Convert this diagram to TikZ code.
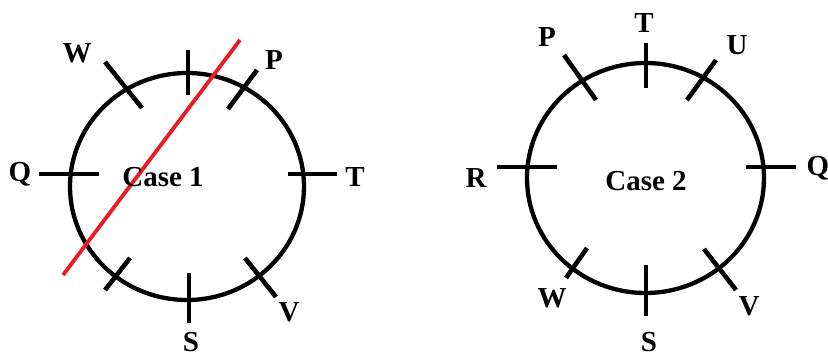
\documentclass[tikz,border=0pt]{standalone}
\usepackage{fontspec}
\setmainfont{Liberation Serif}
\definecolor{cutred}{RGB}{232,28,36}

\begin{document}
\begin{tikzpicture}[x=1pt,y=-1pt,
  ring/.style={line width=4.3pt},
  notch/.style={line width=4.6pt},
  lbl/.style={font=\fontsize{29}{32}\selectfont\bfseries,inner sep=0pt}]
\useasboundingbox (0,0) rectangle (828,358);
\draw[ring] (187,186.5) ellipse [x radius=117, y radius=113.5];
\draw[ring] (645.5,178) ellipse [x radius=118.5, y radius=115];
\foreach \xa/\ya/\xb/\yb in {188/50/188/95, 257/70/228/109, 105/62/142/108, 39/174/99/174,
  288/174/337/174, 189/273/189/323, 245/258/276/297, 130/258/105/290,
  646/43/646/88, 564/55/596/100, 716/60/687/100, 497/167/557/167,
  746/167/796/167, 646/265/646/316, 587/248/566/278, 704/249/736/290}
  \draw[notch] (\xa,\ya) -- (\xb,\yb);
\coordinate (cutA) at (63,275);
\coordinate (cutB) at (240,40);
\draw[cutred,line width=3.8pt] (cutA) -- (cutB);
\node[lbl] (case1) at (163,177) {Case 1};
\node[lbl] (case2) at (646,181) {Case 2};
\foreach \nm/\x/\y/\txt in {w1/77/53/W, p1/274/60/P, q1/20/174/Q, t1/355/177/T, v1/289/312/V, s1/191/342/S,
  p2/547/37/P, t2/644/23/T, u2/737/45/U, r2/476/178/R, q2/818/168/Q, w2/552/298/W, v2/749/306/V, s2/649/342/S}
  \node[lbl] (\nm) at (\x,\y) {\txt};
\end{tikzpicture}
\end{document}
